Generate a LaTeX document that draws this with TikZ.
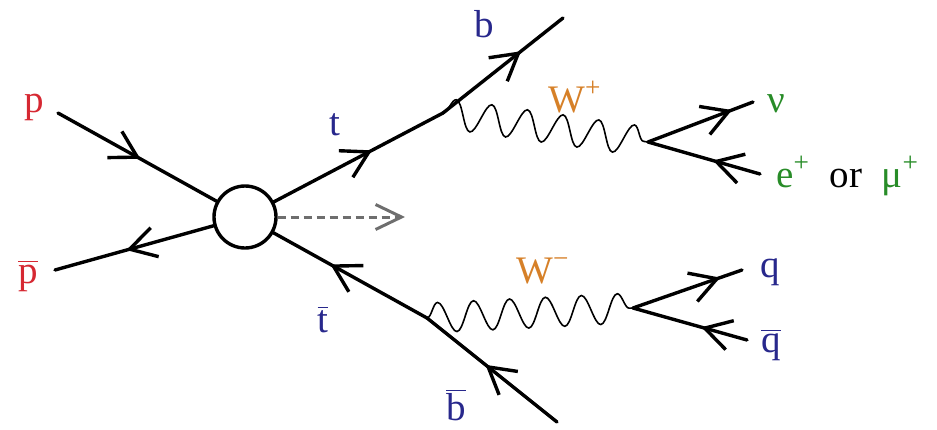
\documentclass[tikz,border=0pt]{standalone}
\usepackage{fontspec}
\setmainfont{Liberation Serif}
\usepackage{xcolor}
\usepackage{tikz}
\usetikzlibrary{arrows.meta,decorations.markings,decorations.pathmorphing}
\definecolor{protonred}{RGB}{214,40,50}
\definecolor{quarkblue}{RGB}{40,40,140}
\definecolor{bosonorange}{RGB}{214,128,40}
\definecolor{leptongreen}{RGB}{40,140,40}
\definecolor{flowgray}{RGB}{110,110,110}
\newcommand{\anti}[1]{$\overline{\mbox{#1}}$}

\tikzset{
  fermion/.style={line width=1.7pt, line cap=round, postaction={decorate},
    decoration={markings, mark=at position #1 with
      {\arrow{Straight Barb[length=13pt,width=15pt]}}}},
  fermion/.default=0.5,
  boson/.style={line width=0.8pt, decorate,
    decoration={snake, segment length=18pt, amplitude=7.5pt}},
  lbl/.style={anchor=base, inner sep=0pt, font=\fontsize{19.5}{22}\selectfont}
}

\begin{document}
\begin{tikzpicture}[x=0.5pt,y=-0.5pt]
        \useasboundingbox (0,0) rectangle (937,429);
        % collision
        \node[draw, circle, line width=1.7pt, minimum size=31pt, inner sep=0pt] (blob) at (245,217) {};
        \coordinate (pin) at (58,113);
        \coordinate (pbarout) at (55,270);
        \coordinate (tvtx) at (443,113);
        \coordinate (bout) at (563,18);
        \coordinate (wpvtx) at (648,142);
        \coordinate (nuout) at (753,102);
        \coordinate (lepin) at (760,174);
        \coordinate (tbvtx) at (427,318);
        \coordinate (bbin) at (557,422);
        \coordinate (wmvtx) at (633,308);
        \coordinate (qout) at (742,270);
        \coordinate (qbin) at (747,340);
        \coordinate (flowend) at (405,217);

        % beams
        \draw[fermion=0.52] (pin) -- (blob);
        \draw[fermion=0.55] (blob) -- (pbarout);
        \draw[flowgray, line width=1.5pt, dash pattern=on 4pt off 2.5pt,
              -{Straight Barb[length=13pt,width=12.5pt]}] (blob) -- (flowend);

        % top decay chain
        \draw[fermion=0.58] (blob) -- (tvtx);
        \draw[fermion=0.65] (tvtx) -- (bout);
        \draw[boson] (tvtx) -- (wpvtx);
        \draw[fermion=0.8] (wpvtx) -- (nuout);
        \draw[fermion=0.42] (lepin) -- (wpvtx);

        % antitop decay chain
        \draw[fermion=0.63] (tbvtx) -- (blob);
        \draw[fermion=0.55] (bbin) -- (tbvtx);
        \draw[boson] (tbvtx) -- (wmvtx);
        \draw[fermion=0.8] (wmvtx) -- (qout);
        \draw[fermion=0.4] (qbin) -- (wmvtx);

        % labels
        \node[lbl, protonred] (plbl) at (34,112) {p};
        \node[lbl, protonred] (pbarlbl) at (28,283) {\anti{p}};
        \node[lbl, quarkblue] (tlbl) at (335,135) {t};
        \node[lbl, quarkblue] (blbl) at (484,37) {b};
        \node[lbl, bosonorange] (wplbl) at (575,112) {W\textsuperscript{+}};
        \node[lbl, leptongreen] (nulbl) at (776,112) {ν};
        \node[lbl, anchor=base west] (leplbl) at (776,187)
            {\textcolor{leptongreen}{e\textsuperscript{+}}\hspace{0.5em}or\hspace{0.5em}\textcolor{leptongreen}{μ\textsuperscript{+}}};
        \node[lbl, quarkblue] (qlbl) at (770,277) {q};
        \node[lbl, quarkblue] (qbarlbl) at (771,352) {\anti{q}};
        \node[lbl, bosonorange] (wmlbl) at (543,283) {W\textsuperscript{−}};
        \node[lbl, quarkblue] (tbarlbl) at (323,332) {\anti{t}};
        \node[lbl, quarkblue] (bbarlbl) at (456,420) {\anti{b}};
\end{tikzpicture}
\end{document}
